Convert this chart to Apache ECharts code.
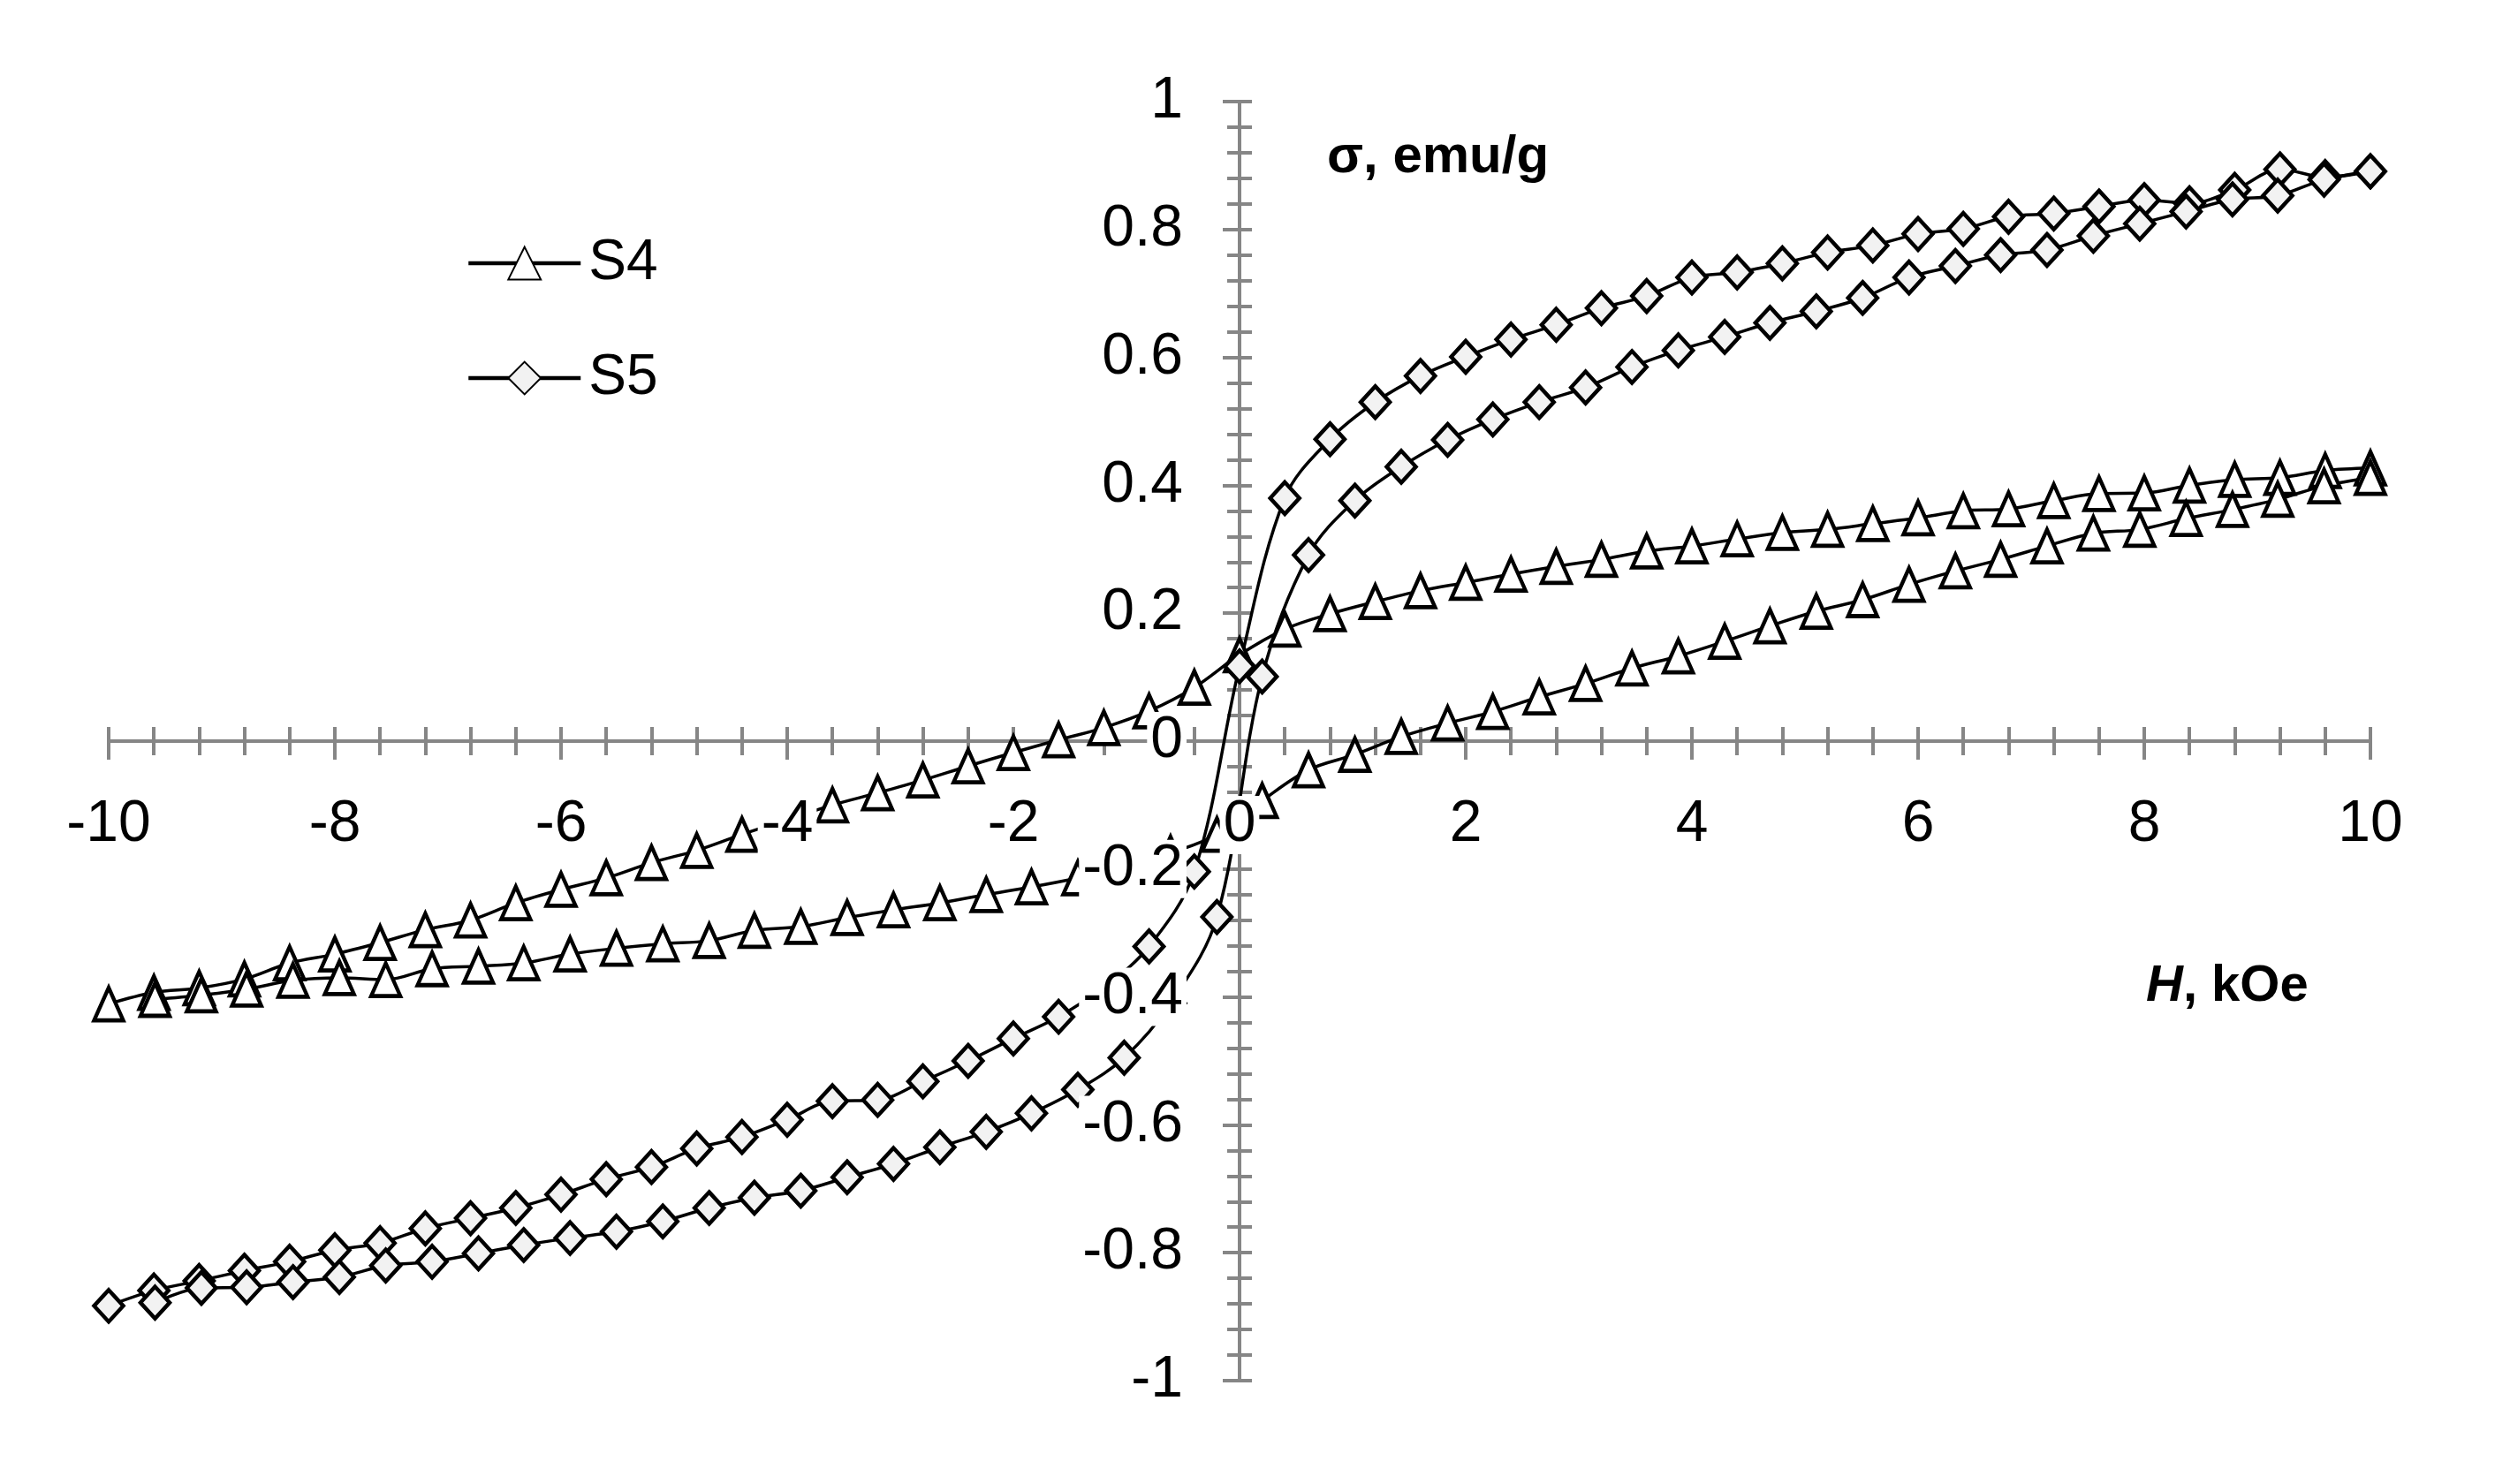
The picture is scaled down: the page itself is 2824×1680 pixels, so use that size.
<!DOCTYPE html>
<html>
<head>
<meta charset="utf-8">
<script src="https://cdn.jsdelivr.net/npm/echarts@6/dist/echarts.min.js"></script>
<style>
  html, body { margin: 0; padding: 0; background: #fff; }
  #chart { width: 2824px; height: 1680px; }
</style>
</head>
<body>
<div id="chart"></div>
<script>
// field steps, descending branch (+10 -> -10) and ascending branch (-10 -> +10), kOe
const hDown = [10, 9.6, 9.2, 8.8, 8.4, 8, 7.6, 7.2, 6.8, 6.4, 6, 5.6, 5.2, 4.8, 4.4, 4, 3.6, 3.2, 2.8, 2.4, 2, 1.6, 1.2, 0.8, 0.4, 0,
  -0.4, -0.8, -1.2, -1.6, -2, -2.4, -2.8, -3.2, -3.6, -4, -4.4, -4.8, -5.2, -5.6, -6, -6.4, -6.8, -7.2, -7.6, -8, -8.4, -8.8, -9.2, -9.6, -10];
const hUp = [-9.59, -9.18, -8.78, -8.37, -7.96, -7.55, -7.14, -6.73, -6.33, -5.92, -5.51, -5.1, -4.69, -4.29, -3.88, -3.47, -3.06,
  -2.65, -2.24, -1.84, -1.43, -1.02, -0.61, -0.2, 0.2, 0.61, 1.02, 1.43, 1.84, 2.24, 2.65, 3.06, 3.47, 3.88, 4.29, 4.69, 5.1,
  5.51, 5.92, 6.33, 6.73, 7.14, 7.55, 7.96, 8.37, 8.78, 9.18, 9.59, 10];

// sigma, emu/g
const s4Down = [0.427, 0.423, 0.412, 0.409, 0.400, 0.388, 0.387, 0.376, 0.363, 0.360, 0.349, 0.340, 0.331, 0.326, 0.316, 0.305,
  0.297, 0.284, 0.273, 0.261, 0.248, 0.235, 0.218, 0.199, 0.175, 0.135, 0.084, 0.047, 0.021, 0.002, -0.018, -0.039, -0.061,
  -0.081, -0.100, -0.123, -0.146, -0.171, -0.190, -0.214, -0.232, -0.253, -0.280, -0.295, -0.315, -0.333, -0.347, -0.372,
  -0.386, -0.393, -0.411];
const s4Up = [-0.404, -0.397, -0.388, -0.374, -0.370, -0.373, -0.356, -0.352, -0.347, -0.333, -0.324, -0.317, -0.312, -0.296,
  -0.290, -0.276, -0.264, -0.253, -0.240, -0.228, -0.214, -0.198, -0.175, -0.146, -0.093, -0.045, -0.021, 0.007, 0.028, 0.046,
  0.069, 0.090, 0.114, 0.133, 0.156, 0.180, 0.203, 0.221, 0.245, 0.266, 0.284, 0.305, 0.325, 0.331, 0.348, 0.362, 0.378,
  0.399, 0.412];
const s5Down = [0.891, 0.882, 0.894, 0.862, 0.841, 0.846, 0.836, 0.825, 0.820, 0.801, 0.793, 0.775, 0.764, 0.747, 0.733, 0.725,
  0.696, 0.677, 0.651, 0.628, 0.601, 0.571, 0.530, 0.472, 0.380, 0.117, -0.204, -0.321, -0.385, -0.431, -0.465, -0.500,
  -0.532, -0.561, -0.563, -0.592, -0.619, -0.637, -0.666, -0.685, -0.709, -0.730, -0.746, -0.762, -0.785, -0.796, -0.814,
  -0.828, -0.844, -0.859, -0.883];
const s5Up = [-0.878, -0.855, -0.854, -0.846, -0.838, -0.820, -0.814, -0.801, -0.788, -0.777, -0.767, -0.751, -0.730, -0.714,
  -0.703, -0.682, -0.661, -0.635, -0.611, -0.582, -0.545, -0.495, -0.410, -0.275, 0.101, 0.291, 0.376, 0.429, 0.471, 0.503,
  0.530, 0.553, 0.585, 0.611, 0.632, 0.654, 0.672, 0.693, 0.725, 0.743, 0.760, 0.768, 0.790, 0.809, 0.828, 0.847, 0.853,
  0.878, 0.891];

const seriesNames = ['S4', 'S5'];
const xTitle = 'H';
const xUnit = ', kOe';
const yTitle = 'σ, emu/g';

const AXIS_GREY = '#868686';
const NUM_FONT = '"Liberation Sans Narrow", "Liberation Sans", sans-serif';
const TITLE_FONT = '"Liberation Sans", Arial, sans-serif';

const GRID = { left: 123, right: 141, top: 115, bottom: 117 };
const W = 2824, H = 1680;
const X_RANGE = [-10, 10];
const Y_RANGE = [-1, 1];

function pairs(xs, ys) {
  return xs.map((x, i) => [x, ys[i]]);
}

// distance from the grid edge to the zero line, used to move the label-only axes
function zeroOffset(dim) {
  if (dim === 'x') {
    const h = H - GRID.top - GRID.bottom;
    return -h * (0 - Y_RANGE[0]) / (Y_RANGE[1] - Y_RANGE[0]);
  }
  const w = W - GRID.left - GRID.right;
  return -w * (0 - X_RANGE[0]) / (X_RANGE[1] - X_RANGE[0]);
}

// one axis per job: line + outer ticks, inner ticks, labels on top of the curves
function axisPart(dim, kind) {
  const isX = dim === 'x';
  const range = isX ? X_RANGE : Y_RANGE;
  const outLen = isX ? 21 : 19;
  const inLen = isX ? 16 : 14;
  const base = {
    type: 'value',
    min: range[0],
    max: range[1],
    interval: isX ? 2 : 0.2,
    position: isX ? 'bottom' : 'left',
    splitLine: { show: false },
    axisLine: {
      show: true, onZero: true, onZeroAxisIndex: 0,
      lineStyle: { color: AXIS_GREY, width: 4, opacity: kind === 'out' ? 1 : 0 }
    },
    axisTick: {
      show: true, inside: kind === 'in', length: kind === 'in' ? inLen : outLen,
      lineStyle: { color: AXIS_GREY, width: 4 }
    },
    minorTick: { show: true, splitNumber: 5, length: inLen, lineStyle: { color: AXIS_GREY, width: 4 } },
    axisLabel: { show: false }
  };
  if (kind === 'label') {
    base.z = 10;
    base.offset = zeroOffset(dim);
    base.axisLine = { show: false, onZero: false };
    base.axisTick = { show: false };
    base.minorTick = { show: false };
    base.axisLabel = {
      show: true, margin: isX ? 62 : 60, color: '#000', fontSize: 66, fontFamily: NUM_FONT,
      backgroundColor: '#fff', padding: [0, 4],
      formatter: (v) => String(Math.round(v * 10) / 10)
    };
  }
  return base;
}

function branch(name, data, symbol, size, fill) {
  return {
    name: name,
    type: 'line',
    data: data,
    smooth: 0.35,
    symbol: symbol,
    symbolSize: size,
    showAllSymbol: true,
    lineStyle: { color: '#000', width: 3.5 },
    itemStyle: { color: fill, borderColor: '#000', borderWidth: 4.5 },
    emphasis: { disabled: true }
  };
}

const chart = echarts.init(document.getElementById('chart'));

chart.setOption({
  animation: false,
  backgroundColor: '#fff',
  grid: Object.assign({ containLabel: false }, GRID),
  title: [
    {
      text: yTitle, left: 1497, top: 143,
      textStyle: { fontFamily: TITLE_FONT, fontWeight: 'bold', fontSize: 60, color: '#000' }
    },
    {
      text: '{i|' + xTitle + '}' + xUnit, left: 2424, top: 1083,
      textStyle: {
        fontFamily: TITLE_FONT, fontWeight: 'bold', fontSize: 58, color: '#000',
        rich: { i: { fontFamily: TITLE_FONT, fontWeight: 'bold', fontStyle: 'italic', fontSize: 58, color: '#000' } }
      }
    }
  ],
  legend: {
    data: seriesNames,
    orient: 'vertical',
    left: 523,
    top: 261,
    itemWidth: 127,
    itemHeight: 46,
    itemGap: 66,
    lineStyle: { width: 4.5 },
    textStyle: { fontFamily: NUM_FONT, fontSize: 64, color: '#000', padding: [0, 0, 0, 4] }
  },
  xAxis: [axisPart('x', 'out'), axisPart('x', 'in'), axisPart('x', 'label')],
  yAxis: [axisPart('y', 'out'), axisPart('y', 'in'), axisPart('y', 'label')],
  series: [
    branch(seriesNames[0], pairs(hDown, s4Down), 'triangle', [33, 37], '#ffffff'),
    branch(seriesNames[0], pairs(hUp, s4Up), 'triangle', [33, 37], '#ffffff'),
    branch(seriesNames[1], pairs(hDown, s5Down), 'diamond', [33, 36], '#f2f2f2'),
    branch(seriesNames[1], pairs(hUp, s5Up), 'diamond', [33, 36], '#f2f2f2')
  ]
});
</script>
</body>
</html>
